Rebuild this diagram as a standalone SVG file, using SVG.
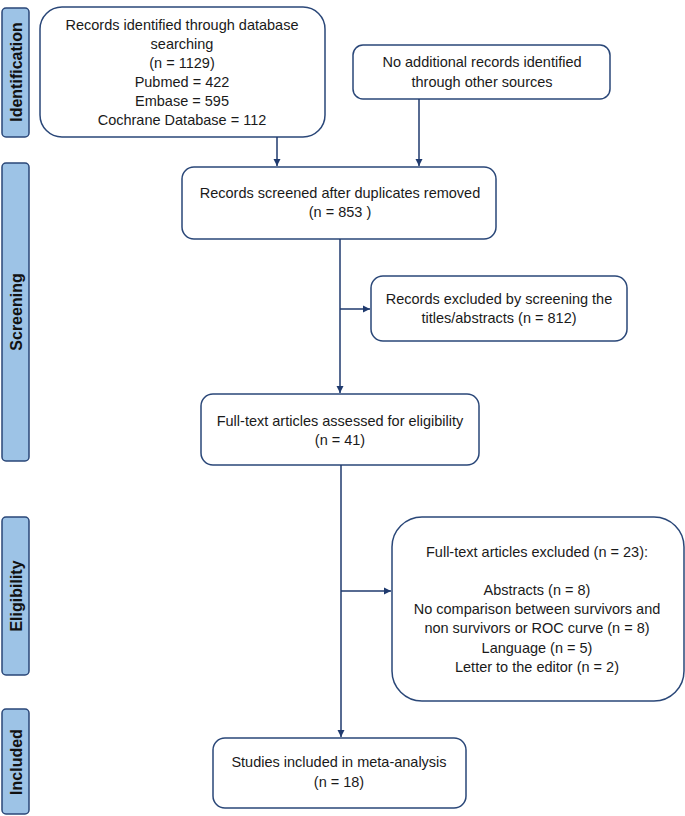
<svg xmlns="http://www.w3.org/2000/svg" width="685" height="816" viewBox="0 0 685 816">
<defs>
<marker id="ah" markerWidth="8" markerHeight="8" refX="7" refY="4" orient="auto" markerUnits="userSpaceOnUse">
<path d="M0,0.5 L7,4 L0,7.5 Z" fill="#1F3A6E"/>
</marker>
<style>
.box{fill:#fff;stroke:#2A4778;stroke-width:1.5}
.side{fill:#9DC3E6;stroke:#2A4778;stroke-width:1.5}
.t{font-family:"Liberation Sans",Arial,sans-serif;font-size:14.5px;fill:#1a1a1a;text-anchor:middle}
.s{font-family:"Liberation Sans",Arial,sans-serif;font-size:16px;font-weight:bold;fill:#111;text-anchor:middle}
.c{stroke:#1F3A6E;stroke-width:1.5;fill:none}
</style>
</defs>
<g id="side-identification"><rect class="side" x="2" y="8" width="27" height="129" rx="4"/><text class="s" transform="translate(21.5,72) rotate(-90)">Identification</text></g>
<g id="side-screening"><rect class="side" x="2" y="163" width="27" height="298" rx="4"/><text class="s" transform="translate(21.5,312) rotate(-90)">Screening</text></g>
<g id="side-eligibility"><rect class="side" x="2" y="517" width="27" height="158" rx="4"/><text class="s" transform="translate(21.5,596) rotate(-90)">Eligibility</text></g>
<g id="side-included"><rect class="side" x="2" y="709" width="27" height="105" rx="4"/><text class="s" transform="translate(21.5,762) rotate(-90)">Included</text></g>

<g id="node-database"><rect class="box" x="40" y="7" width="285" height="130" rx="22"/>
<text class="t" x="182" y="30">Records identified through database</text>
<text class="t" x="182" y="49">searching</text>
<text class="t" x="182" y="68">(n = 1129)</text>
<text class="t" x="182" y="87">Pubmed = 422</text>
<text class="t" x="182" y="106">Embase = 595</text>
<text class="t" x="182" y="125">Cochrane Database = 112</text></g>

<g id="node-other"><rect class="box" x="353" y="45" width="257" height="54" rx="10"/>
<text class="t" x="482" y="67">No additional records identified</text>
<text class="t" x="482" y="87">through other sources</text></g>

<g id="node-screened"><rect class="box" x="182" y="167" width="314" height="72" rx="12"/>
<text class="t" x="340" y="198">Records screened after duplicates removed</text>
<text class="t" x="340" y="217">(n = 853 )</text></g>

<g id="node-excluded1"><rect class="box" x="371" y="276" width="256" height="65" rx="12"/>
<text class="t" x="499" y="304">Records excluded by screening the</text>
<text class="t" x="499" y="323">titles/abstracts (n = 812)</text></g>

<g id="node-fulltext"><rect class="box" x="201" y="394" width="278" height="71" rx="12"/>
<text class="t" x="340" y="426">Full-text articles assessed for eligibility</text>
<text class="t" x="340" y="445">(n = 41)</text></g>

<g id="node-excluded2"><rect class="box" x="392" y="517" width="292" height="184" rx="30"/>
<text class="t" x="537" y="557">Full-text articles excluded (n = 23):</text>
<text class="t" x="537" y="595">Abstracts (n = 8)</text>
<text class="t" x="537" y="614">No comparison between survivors and</text>
<text class="t" x="537" y="633">non survivors or ROC curve (n = 8)</text>
<text class="t" x="537" y="653">Language (n = 5)</text>
<text class="t" x="537" y="672">Letter to the editor (n = 2)</text></g>

<g id="node-included"><rect class="box" x="213" y="738" width="253" height="70" rx="12"/>
<text class="t" x="339" y="767">Studies included in meta-analysis</text>
<text class="t" x="339" y="787">(n = 18)</text></g>

<g id="connectors">
<line class="c" x1="277" y1="137" x2="277" y2="166" marker-end="url(#ah)"/>
<line class="c" x1="419" y1="99" x2="419" y2="166" marker-end="url(#ah)"/>
<line class="c" x1="340" y1="239" x2="340" y2="393" marker-end="url(#ah)"/>
<line class="c" x1="340" y1="309" x2="370" y2="309" marker-end="url(#ah)"/>
<line class="c" x1="341" y1="465" x2="341" y2="737" marker-end="url(#ah)"/>
<line class="c" x1="341" y1="591" x2="391" y2="591" marker-end="url(#ah)"/>
</g>
</svg>
